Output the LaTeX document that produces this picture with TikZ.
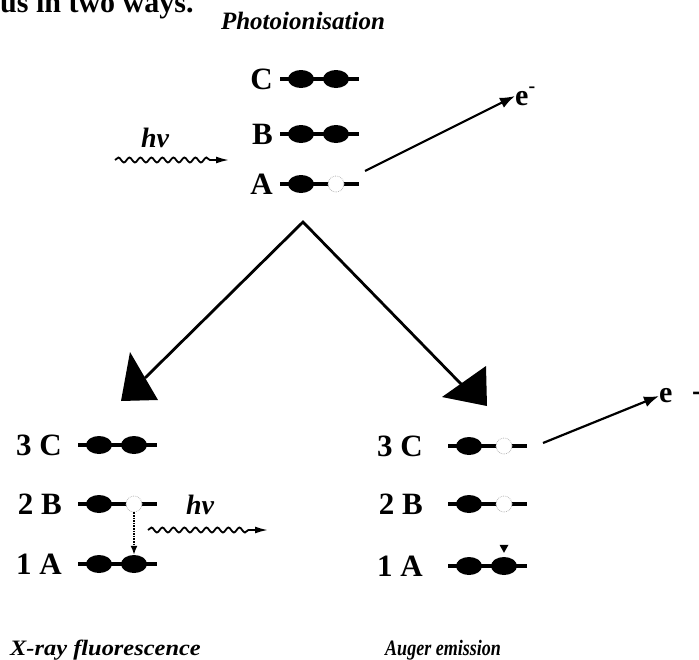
\documentclass[tikz,border=0pt]{standalone}
\usepackage{fontspec}
\setmainfont{Liberation Serif}
\usetikzlibrary{shapes.geometric,arrows.meta,decorations.pathmorphing,calc}

\newcommand\mklevel[4]{%
  \coordinate (#1s) at (#2,#3);
  \coordinate (#1e) at (#2+79,#3);
  \draw[lvl] (#1s) -- (#1e);
  \node[edot] (#1a) at (#2+21,#3) {};
  \node[#4] (#1b) at (#2+56,#3) {};
}

\begin{document}
\begin{tikzpicture}[x=1pt,y=-1pt,
  lvl/.style={line width=4.5pt},
  edot/.style={ellipse, fill=black, minimum width=26pt, minimum height=18pt, inner sep=0pt},
  hole/.style={circle, draw=gray!55, densely dotted, line width=0.8pt, fill=white, minimum size=16pt, inner sep=0pt},
  lbl/.style={font=\bfseries\fontsize{31}{31}\selectfont, inner sep=0pt, anchor=east},
  captxt/.style={font=\bfseries\itshape\fontsize{22}{22}\selectfont, inner sep=0pt},
  hnu/.style={font=\bfseries\itshape\fontsize{28}{28}\selectfont, inner sep=0pt},
  elec/.style={font=\bfseries\fontsize{30}{30}\selectfont, inner sep=0pt},
  arr/.style={line width=2.2pt, -{Latex[length=15pt,width=11pt]}},
  wave/.style={line width=1.8pt, decorate, decoration={snake, amplitude=2.5pt, segment length=11pt, post length=16pt}, -{Latex[length=13pt,width=7pt]}},
  vline/.style={line width=2.8pt},
]
\useasboundingbox (0,0) rectangle (699,659);

% cut-off page text
\node[font=\bfseries\fontsize{30}{30}\selectfont, inner sep=0pt, anchor=base west] (pagetxt) at (0,12) {us in two ways.};

% title
\node[captxt, font=\bfseries\itshape\fontsize{25}{25}\selectfont] (title) at (303,21) {Photoionisation};

% top levels
\mklevel{tC}{280}{79}{edot}
\mklevel{tB}{280}{134}{edot}
\mklevel{tA}{280}{184}{hole}
\node[lbl] (ltC) at (273,79) {C};
\node[lbl] (ltB) at (273,134) {B};
\node[lbl] (ltA) at (273,184) {A};

% incoming photon
\coordinate (w1s) at (115,160);
\coordinate (w1e) at (229,160);
\draw[wave] (w1s) -- (w1e);
\node[hnu] (hv1) at (155,138) {hν};

% ejected electron
\node[elec, anchor=west] (eTop) at (515,96) {e\raisebox{13pt}{\fontsize{20}{20}\selectfont -}};
\coordinate (eTs) at (365,171);
\draw[arr] (eTs) -- (eTop.west);

% V arrows
\coordinate (apex) at (303,222);
\coordinate (lend) at (145,378);
\coordinate (rend) at (463,386);
\draw[vline, line join=miter] (lend) -- (apex) -- (rend);
\fill (130,352) -- (121,401) -- (158,400) -- cycle;
\fill (486,366) -- (442,397) -- (487,406) -- cycle;

% bottom left : X-ray fluorescence
\mklevel{lC}{78}{445}{edot}
\mklevel{lB}{78}{504}{hole}
\mklevel{lA}{78}{564}{edot}
\node[lbl] (llC) at (62,445) {3 C};
\node[lbl] (llB) at (62,504) {2 B};
\node[lbl] (llA) at (62,564) {1 A};
\draw[line width=1.6pt, densely dotted, -{Latex[length=9pt,width=7pt]}] (lBb.south) -- (lAb.north);
\coordinate (w2s) at (148,530);
\coordinate (w2e) at (268,530);
\draw[wave] (w2s) -- (w2e);
\node[hnu] (hv2) at (200,505) {hν};
\node[captxt, anchor=west] (xrf) at (10,650) {\scalebox{1.11}[1]{X-ray fluorescence}};

% bottom right : Auger emission
\mklevel{rC}{448}{446}{hole}
\mklevel{rB}{448}{504}{hole}
\mklevel{rA}{448}{566}{edot}
\node[lbl] (lrC) at (423,446) {3 C};
\node[lbl] (lrB) at (423,504) {2 B};
\node[lbl] (lrA) at (423,566) {1 A};
\fill (rAb.north) ++(-4.5,-12) -- ++(9,0) -- ++(-4.5,8) -- cycle;
\node[elec, anchor=west] (eBot) at (659,396) {e};
\node[elec, anchor=center] (eBotm) at (697,396) {-};
\coordinate (eBs) at (543,443);
\draw[arr] (eBs) -- (eBot.west);
\node[captxt, anchor=west] (auger) at (385,650) {\scalebox{0.82}[1]{Auger emission}};
\end{tikzpicture}
\end{document}
